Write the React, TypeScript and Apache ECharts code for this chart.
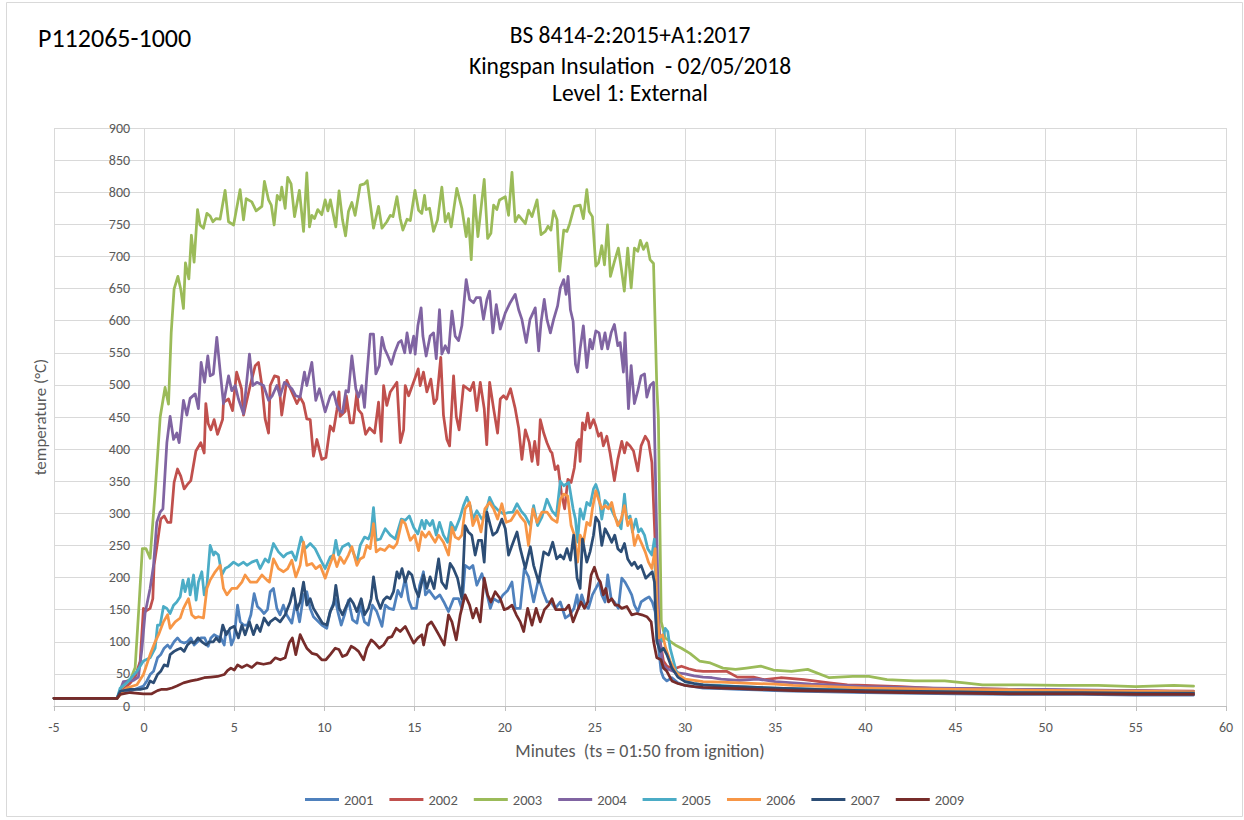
import React, { useEffect, useRef } from "react";
import * as echarts from "echarts";

// Time in minutes (ts = 01:50 from ignition), temperature in °C
const seriesNames = ["2001", "2002", "2003", "2004", "2005", "2006", "2007", "2009"];
const seriesColors = ["#4F81BD", "#C0504D", "#9BBB59", "#8064A2", "#4BACC6", "#F79646", "#2C4D75", "#772C2A"];

const titleLeft = "P112065-1000";
const titleLines = ["BS 8414-2:2015+A1:2017", "Kingspan Insulation  - 02/05/2018", "Level 1: External"];
const xName = "Minutes  (ts = 01:50 from ignition)";
const yName = "temperature (°C)";

const s2001: number[][] = [[-5,12],[-1.5,12],[-1.33,21],[-0.78,23],[-0.04,31],[0.15,39],[0.33,49],[0.52,54],[0.74,75],[0.92,80],[1.11,90],[1.3,95],[1.44,90],[1.66,100],[1.85,106],[2.03,100],[2.22,98],[2.4,100],[2.59,106],[2.77,95],[2.96,100],[3.14,106],[3.36,106],[3.55,93],[3.7,106],[3.88,111],[4.07,108],[4.25,106],[4.44,95],[4.53,116],[4.72,116],[4.84,95],[4.99,106],[5.18,157],[5.33,131],[5.51,126],[5.73,126],[5.92,142],[6.1,175],[6.28,155],[6.47,150],[6.65,144],[6.84,150],[6.99,178],[7.17,183],[7.36,152],[7.54,142],[7.72,157],[7.9,142],[8.19,129],[8.4,162],[8.62,131],[8.84,173],[9.02,178],[9.21,152],[9.39,139],[9.67,131],[9.85,126],[10.13,121],[10.32,147],[10.6,167],[10.74,147],[10.93,126],[11.11,142],[11.33,165],[11.56,134],[11.8,129],[11.98,157],[12.22,131],[12.44,126],[12.66,157],[12.9,147],[13.19,124],[13.37,157],[13.59,152],[13.83,150],[14.07,180],[14.26,170],[14.48,199],[14.67,165],[14.85,152],[15.1,152],[15.28,188],[15.49,209],[15.6,173],[15.8,180],[16.14,167],[16.4,173],[16.62,162],[16.88,147],[17.16,167],[17.44,167],[17.62,152],[17.8,219],[18.05,214],[18.23,219],[18.45,188],[18.73,206],[18.9,188],[19.2,152],[19.38,167],[19.66,162],[19.9,173],[20.16,180],[20.4,193],[20.58,152],[20.86,152],[21.08,214],[21.32,201],[21.6,162],[21.88,199],[22.12,178],[22.34,162],[22.56,162],[22.8,152],[23.08,162],[23.36,137],[23.6,142],[23.84,152],[24.01,173],[24.1,152],[24.27,173],[24.45,157],[24.64,152],[24.86,173],[25.05,183],[25.23,193],[25.38,173],[25.56,162],[25.71,204],[25.9,167],[26.08,162],[26.3,152],[26.49,199],[26.67,193],[26.86,183],[27.04,173],[27.19,157],[27.38,147],[27.56,162],[27.82,167],[28.0,170],[28.18,162],[28.34,147],[28.49,101],[28.67,54],[28.8,44],[28.99,39],[29.27,44],[29.6,36],[30,32],[30.5,30],[31,28],[32,27],[33,26],[34,25],[35,24],[36,23],[38,22],[40,21],[42,20],[45,19],[48,18],[52,18],[55,17],[58.2,17]];

const s2002: number[][] = [[-5,12],[-1.5,12],[-1.2,25],[-0.8,35],[-0.5,45],[-0.22,70],[-0.04,152],[0.11,148],[0.33,152],[0.48,167],[0.55,219],[0.74,255],[0.92,291],[1.11,296],[1.3,286],[1.48,286],[1.66,348],[1.85,369],[2.03,358],[2.22,338],[2.4,345],[2.59,351],[2.87,397],[3.14,410],[3.33,394],[3.42,471],[3.55,440],[3.7,430],[3.88,446],[4.07,423],[4.35,446],[4.4,473],[4.68,478],[4.9,460],[5.13,520],[5.4,494],[5.51,453],[5.88,499],[6.16,530],[6.34,535],[6.53,499],[6.71,447],[6.9,425],[6.99,499],[7.23,514],[7.45,512],[7.63,453],[7.91,507],[8.19,489],[8.47,471],[8.65,481],[8.84,471],[9.02,447],[9.21,446],[9.39,389],[9.58,415],[9.85,384],[10.08,387],[10.32,436],[10.5,428],[10.69,461],[10.81,489],[10.87,451],[11.15,459],[11.21,483],[11.43,441],[11.6,441],[11.8,489],[11.89,461],[12.07,455],[12.28,423],[12.5,433],[12.78,425],[13,473],[13.15,412],[13.28,499],[13.46,468],[13.65,489],[14.02,504],[14.21,410],[14.39,430],[14.48,499],[14.67,483],[15.04,512],[15.2,525],[15.31,499],[15.49,520],[15.68,489],[15.9,509],[16.08,471],[16.23,478],[16.45,543],[16.6,453],[16.79,415],[16.94,405],[17.16,514],[17.31,451],[17.47,430],[17.71,499],[18.08,491],[18.27,504],[18.45,460],[18.64,504],[18.86,463],[19.0,407],[19.16,504],[19.38,463],[19.6,425],[19.75,478],[19.93,483],[20.1,478],[20.32,494],[20.58,463],[20.77,433],[20.95,384],[21.14,430],[21.36,410],[21.51,381],[21.66,412],[21.84,376],[21.97,446],[22.16,425],[22.34,410],[22.53,397],[22.62,394],[22.8,368],[22.95,374],[23.14,332],[23.32,307],[23.5,353],[23.68,348],[23.86,371],[24.0,410],[24.12,415],[24.18,381],[24.31,441],[24.45,430],[24.6,456],[24.73,433],[24.92,446],[25.05,436],[25.2,420],[25.34,425],[25.47,405],[25.66,420],[25.84,394],[26.08,351],[26.27,384],[26.49,412],[26.64,394],[26.77,410],[26.95,405],[27.14,397],[27.38,366],[27.56,405],[27.79,420],[27.97,412],[28.16,379],[28.34,255],[28.43,173],[28.62,100],[28.8,70],[29.0,62],[29.4,58],[29.8,62],[30.2,58],[30.6,55],[31,54],[31.7,54],[32.3,54],[32.9,45],[33.8,45],[34.4,41],[35.3,44],[36.6,41],[38,36],[39,33],[40,32],[42,30],[44,27],[46,27],[48,26],[50,25],[52,24],[55,24],[58.2,23]];

const s2003: number[][] = [[-5,12],[-1.5,12],[-1.25,28],[-1,38],[-0.75,42],[-0.5,60],[-0.3,150],[-0.1,245],[0.1,245],[0.33,230],[0.6,330],[0.89,450],[1.16,496],[1.35,470],[1.5,581],[1.66,649],[1.87,669],[2.03,649],[2.18,619],[2.29,690],[2.48,665],[2.62,733],[2.77,691],[2.96,773],[3.1,749],[3.29,744],[3.48,767],[3.66,763],[3.81,754],[3.99,759],[4.21,758],[4.49,803],[4.68,754],[4.96,749],[5.32,804],[5.51,757],[5.66,790],[5.97,785],[6.21,771],[6.53,778],[6.67,817],[6.9,788],[7.05,780],[7.21,749],[7.38,795],[7.54,788],[7.63,808],[7.82,775],[7.96,823],[8.15,813],[8.34,762],[8.61,803],[8.84,739],[9.02,830],[9.17,746],[9.3,764],[9.45,759],[9.63,773],[9.85,765],[10.04,788],[10.19,771],[10.33,788],[10.63,746],[10.81,802],[11,757],[11.17,732],[11.33,770],[11.52,784],[11.7,764],[11.98,811],[12.22,813],[12.37,818],[12.54,782],[12.72,744],[13,778],[13.19,744],[13.46,754],[13.65,764],[13.8,762],[14.02,793],[14.2,759],[14.35,741],[14.58,758],[14.76,756],[15.02,803],[15.22,772],[15.4,767],[15.55,795],[15.64,773],[15.83,775],[16.05,739],[16.27,757],[16.51,808],[16.7,754],[16.88,767],[17.03,746],[17.34,806],[17.62,775],[17.86,731],[17.99,759],[18.14,695],[18.32,795],[18.51,731],[18.86,820],[19.05,728],[19.23,736],[19.38,780],[19.56,773],[19.71,788],[20.03,793],[20.21,764],[20.4,831],[20.58,754],[20.77,764],[21.14,751],[21.32,772],[21.51,762],[21.79,788],[22.01,734],[22.25,739],[22.4,747],[22.56,741],[22.71,771],[22.9,757],[23.04,677],[23.27,741],[23.45,739],[23.6,751],[23.86,778],[24.18,780],[24.36,759],[24.55,804],[24.68,770],[24.86,762],[25.05,685],[25.2,690],[25.38,717],[25.53,687],[25.7,749],[25.86,669],[26.08,692],[26.3,713],[26.46,682],[26.63,646],[26.82,713],[27.01,651],[27.19,713],[27.38,708],[27.52,725],[27.69,711],[27.88,721],[28.06,695],[28.25,689],[28.43,499],[28.52,448],[28.68,131],[28.9,106],[29.45,95],[29.8,90],[30.27,82],[30.8,70],[31.4,67],[32.1,59],[32.8,57],[33.4,59],[34.2,62],[34.9,56],[35.9,54],[36.8,57],[38,44],[39.3,46],[40.2,46],[41.2,41],[42.7,39],[44.4,39],[45.5,36],[46.5,33],[48.6,33],[50.8,32],[52.9,32],[55,30],[57.1,32],[58.2,31]];

const s2004: number[][] = [[-5,12],[-1.5,12],[-1.15,38],[-0.59,40],[-0.32,45],[-0.13,87],[0.05,144],[0.33,183],[0.52,219],[0.7,286],[0.89,302],[1.04,307],[1.26,410],[1.44,451],[1.63,415],[1.81,425],[1.94,410],[2.18,476],[2.37,453],[2.55,479],[2.83,486],[3.01,463],[3.16,535],[3.35,504],[3.53,545],[3.66,514],[3.84,517],[4.03,574],[4.22,520],[4.4,471],[4.68,514],[4.86,491],[5.05,499],[5.23,478],[5.51,455],[5.84,548],[6.03,499],[6.25,504],[6.62,499],[6.9,476],[7.1,483],[7.36,499],[7.54,483],[7.78,504],[8.0,499],[8.19,494],[8.41,483],[8.65,481],[8.89,520],[9.02,499],[9.3,535],[9.52,476],[9.72,494],[10.04,458],[10.32,483],[10.5,489],[10.69,468],[10.87,459],[11.0,457],[11.19,491],[11.33,489],[11.52,545],[11.74,494],[11.89,481],[12.07,499],[12.22,465],[12.35,514],[12.54,579],[12.72,579],[12.85,517],[13.04,530],[13.19,574],[13.34,556],[13.52,545],[13.71,532],[13.89,550],[14.11,566],[14.26,569],[14.45,550],[14.58,581],[14.76,550],[14.95,576],[15.03,548],[15.18,592],[15.36,620],[15.46,576],[15.64,545],[15.86,576],[16.05,581],[16.2,541],[16.38,617],[16.51,548],[16.7,561],[16.88,550],[17.07,615],[17.25,576],[17.44,569],[17.62,592],[17.86,664],[18.05,633],[18.27,628],[18.42,636],[18.64,636],[18.82,602],[19.01,633],[19.16,646],[19.34,581],[19.53,625],[19.75,587],[20.03,612],[20.3,628],[20.58,641],[20.77,617],[20.95,602],[21.19,566],[21.4,602],[21.69,620],[21.88,553],[22.01,597],[22.19,633],[22.34,602],[22.53,581],[22.71,602],[22.93,623],[23.08,651],[23.27,664],[23.4,641],[23.51,669],[23.64,617],[23.79,599],[23.92,532],[24.04,520],[24.18,556],[24.36,592],[24.55,527],[24.73,571],[24.86,556],[25.05,584],[25.23,581],[25.38,556],[25.56,581],[25.71,556],[25.9,581],[26.08,594],[26.27,561],[26.4,566],[26.58,520],[26.67,581],[26.86,463],[27.01,530],[27.19,471],[27.38,491],[27.56,514],[27.75,517],[27.88,481],[28.06,499],[28.25,504],[28.4,300],[28.55,120],[28.75,65],[29.0,58],[29.5,52],[30,50],[30.5,47],[31,45],[31.5,44],[32,42],[33,40],[34,42],[35,38],[36,36],[37,34],[38,33],[40,30],[42,29],[44,28],[46,27],[48,26],[50,26],[52,25],[55,24],[58.2,22]];

const s2005: number[][] = [[-5,12],[-1.5,12],[-1.33,28],[-0.96,36],[-0.4,54],[-0.04,70],[0.33,75],[0.61,90],[0.74,126],[0.89,126],[1.07,155],[1.26,152],[1.44,144],[1.63,157],[1.81,162],[2.0,170],[2.15,196],[2.27,178],[2.46,198],[2.55,173],[2.74,204],[2.88,165],[3.01,193],[3.2,209],[3.33,173],[3.48,188],[3.66,250],[3.85,235],[3.94,240],[4.12,235],[4.31,204],[4.49,214],[4.68,217],[4.96,224],[5.23,219],[5.51,224],[5.7,219],[5.97,224],[6.25,227],[6.43,214],[6.71,229],[6.9,224],[7.17,253],[7.45,240],[7.73,232],[7.91,237],[8.19,240],[8.41,227],[8.71,263],[8.93,245],[9.21,253],[9.48,245],[9.76,229],[10.04,214],[10.32,232],[10.5,235],[10.63,258],[10.78,235],[11.0,248],[11.33,253],[11.56,242],[11.8,224],[11.98,250],[12.22,263],[12.44,260],[12.59,271],[12.72,309],[12.87,258],[13.1,260],[13.37,276],[13.65,266],[13.93,260],[14.26,291],[14.48,289],[14.71,296],[14.95,278],[15.18,268],[15.4,289],[15.55,276],[15.64,289],[15.86,281],[16.0,289],[16.2,266],[16.38,286],[16.6,266],[16.83,255],[17.01,286],[17.25,274],[17.49,291],[17.71,312],[17.9,325],[18.08,312],[18.23,291],[18.45,304],[18.73,291],[18.9,296],[19.16,325],[19.38,312],[19.66,304],[19.93,299],[20.16,301],[20.45,302],[20.68,315],[20.9,304],[21.14,296],[21.42,281],[21.6,312],[21.82,281],[22.06,294],[22.34,322],[22.62,304],[22.86,296],[23.08,350],[23.27,343],[23.55,348],[23.79,307],[23.92,291],[24.04,255],[24.18,307],[24.36,291],[24.55,317],[24.73,312],[24.92,338],[25.05,345],[25.2,332],[25.38,291],[25.56,320],[25.71,315],[25.9,307],[26.08,296],[26.27,286],[26.45,276],[26.64,330],[26.77,291],[26.95,296],[27.08,271],[27.27,291],[27.42,271],[27.56,276],[27.75,266],[27.93,245],[28.16,235],[28.3,260],[28.4,152],[28.53,111],[28.75,101],[28.9,121],[29.04,116],[29.17,90],[29.5,55],[30,38],[30.5,35],[31,33],[32,32],[33,30],[34,29],[35,28],[36,27],[38,26],[40,25],[42,24],[45,23],[48,22],[52,22],[55,21],[58.2,21]];

const s2006: number[][] = [[-5,12],[-1.5,12],[-1.2,22],[-0.96,28],[-0.4,33],[-0.04,49],[0.33,80],[0.61,100],[0.8,111],[1.07,131],[1.3,142],[1.44,121],[1.72,131],[2.0,137],[2.18,152],[2.27,157],[2.46,167],[2.64,142],[2.83,137],[3.01,139],[3.29,137],[3.48,183],[3.66,196],[3.94,209],[4.22,219],[4.4,183],[4.59,173],[4.86,183],[5.14,183],[5.42,193],[5.6,204],[5.88,193],[6.25,193],[6.53,204],[6.81,196],[6.95,193],[7.17,229],[7.45,214],[7.73,209],[7.96,214],[8.19,227],[8.41,201],[8.65,219],[8.84,255],[9.02,219],[9.3,222],[9.52,214],[9.76,219],[10.04,199],[10.26,217],[10.5,235],[10.69,217],[10.87,232],[11.09,222],[11.33,235],[11.52,248],[11.8,219],[11.98,229],[12.17,232],[12.35,250],[12.54,245],[12.72,284],[12.87,240],[13.1,245],[13.34,242],[13.59,250],[13.83,246],[14.02,253],[14.3,289],[14.48,284],[14.76,258],[15.0,266],[15.22,242],[15.4,271],[15.6,263],[15.8,271],[15.96,263],[16.14,255],[16.33,266],[16.6,255],[16.88,235],[17.07,278],[17.25,263],[17.44,260],[17.62,266],[17.8,307],[18.05,317],[18.23,281],[18.45,296],[18.68,271],[18.9,307],[19.16,317],[19.38,307],[19.6,291],[19.84,315],[20.08,286],[20.34,289],[20.68,304],[20.9,294],[21.14,286],[21.32,250],[21.56,307],[21.79,286],[22.06,302],[22.34,302],[22.62,291],[22.9,286],[23.08,322],[23.27,330],[23.49,327],[23.68,281],[23.86,266],[24.04,224],[24.18,266],[24.36,255],[24.55,286],[24.73,281],[24.86,307],[25.05,335],[25.2,322],[25.38,307],[25.56,312],[25.75,307],[25.93,317],[26.1,296],[26.27,281],[26.45,291],[26.64,312],[26.82,281],[27.0,291],[27.19,250],[27.38,266],[27.56,255],[27.79,240],[27.97,224],[28.16,214],[28.34,245],[28.43,162],[28.56,106],[28.75,111],[28.93,90],[29.17,70],[29.5,52],[30,42],[30.5,40],[31,38],[32,37],[33,36],[34,35],[35,34],[36,32],[38,30],[40,28],[42,27],[45,26],[48,25],[52,24],[55,23],[58.2,22]];

const s2007: number[][] = [[-5,12],[-1.5,12],[-1.33,23],[-0.78,26],[-0.22,26],[0.15,28],[0.33,39],[0.52,36],[0.74,49],[0.92,54],[1.11,64],[1.3,62],[1.44,80],[1.66,85],[1.85,88],[2.03,90],[2.22,85],[2.4,95],[2.59,100],[2.77,98],[2.99,106],[3.2,100],[3.44,95],[3.62,100],[3.84,100],[3.99,106],[4.18,100],[4.36,126],[4.55,111],[4.77,121],[5.0,124],[5.23,106],[5.42,126],[5.6,111],[5.84,131],[6.06,111],[6.25,126],[6.43,116],[6.65,137],[6.9,126],[6.99,131],[7.27,137],[7.54,131],[7.82,142],[8.1,162],[8.28,183],[8.47,150],[8.65,162],[8.84,193],[9.02,157],[9.21,167],[9.39,152],[9.67,139],[9.89,129],[10.13,126],[10.32,147],[10.5,157],[10.63,188],[10.82,152],[11.0,142],[11.24,157],[11.43,167],[11.6,160],[11.8,147],[12.04,167],[12.22,142],[12.44,152],[12.59,167],[12.72,201],[12.9,167],[13.1,152],[13.28,165],[13.46,170],[13.65,167],[13.83,178],[14.02,209],[14.15,199],[14.3,214],[14.48,193],[14.67,209],[14.85,204],[15.03,183],[15.22,170],[15.4,193],[15.5,204],[15.68,183],[15.86,201],[16.08,183],[16.33,229],[16.5,193],[16.75,183],[16.97,222],[17.15,214],[17.38,199],[17.62,167],[17.8,281],[17.98,271],[18.17,266],[18.36,235],[18.54,258],[18.72,258],[18.86,224],[19.01,302],[19.2,281],[19.34,266],[19.56,271],[19.84,291],[20.03,276],[20.21,235],[20.4,250],[20.68,271],[20.86,245],[21.14,214],[21.42,248],[21.6,219],[21.88,193],[22.16,240],[22.43,235],[22.66,255],[22.88,229],[23.08,235],[23.27,229],[23.45,245],[23.64,227],[23.82,266],[24.01,199],[24.18,183],[24.31,260],[24.55,224],[24.73,240],[24.92,266],[25.05,294],[25.23,286],[25.38,250],[25.56,276],[25.75,266],[25.93,255],[26.1,266],[26.27,245],[26.45,240],[26.64,253],[26.82,229],[27.04,219],[27.19,224],[27.38,214],[27.56,219],[27.82,199],[28.0,204],[28.18,209],[28.3,193],[28.43,101],[28.62,85],[28.8,90],[28.99,80],[29.27,59],[29.6,45],[30,38],[30.5,35],[31,33],[32,31],[33,30],[34,29],[35,28],[36,27],[38,25],[40,24],[42,23],[45,22],[48,21],[52,21],[55,20],[58.2,20]];

const s2009: number[][] = [[-5,12],[-1.5,12],[-1.33,18],[-0.78,21],[-0.04,19],[0.42,19],[0.74,24],[0.98,26],[1.25,26],[1.54,28],[1.81,31],[2.18,36],[2.59,39],[2.96,41],[3.33,44],[3.7,45],[4.07,46],[4.44,49],[4.62,55],[4.81,59],[5.0,56],[5.18,64],[5.42,60],[5.7,64],[5.97,60],[6.25,67],[6.62,65],[7.0,67],[7.27,75],[7.55,72],[7.82,75],[8.04,98],[8.22,106],[8.41,80],[8.65,111],[8.84,100],[9.02,90],[9.3,82],[9.58,80],[9.85,72],[10.08,72],[10.32,80],[10.6,90],[10.8,88],[11.0,77],[11.24,80],[11.48,93],[11.68,90],[11.89,85],[12.17,72],[12.35,90],[12.59,103],[12.8,98],[13.04,90],[13.28,95],[13.52,106],[13.74,108],[13.98,121],[14.2,116],[14.48,124],[14.71,111],[14.95,98],[15.18,106],[15.4,111],[15.5,95],[15.72,126],[15.93,131],[16.14,121],[16.4,108],[16.64,95],[16.88,142],[17.07,131],[17.31,103],[17.53,142],[17.8,173],[18.05,157],[18.23,137],[18.42,152],[18.64,131],[18.86,199],[19.05,173],[19.23,162],[19.47,178],[19.75,167],[19.97,150],[20.16,152],[20.4,157],[20.64,142],[20.86,131],[21.05,116],[21.27,152],[21.51,126],[21.74,152],[21.97,131],[22.2,150],[22.43,157],[22.62,167],[22.83,150],[23.08,150],[23.36,150],[23.55,157],[23.79,131],[24.01,147],[24.23,162],[24.42,152],[24.6,162],[24.79,204],[24.97,216],[25.16,199],[25.3,193],[25.47,173],[25.6,183],[25.75,162],[25.93,167],[26.12,157],[26.3,157],[26.49,152],[26.77,155],[27.04,142],[27.32,144],[27.6,142],[27.88,139],[28.12,131],[28.25,101],[28.43,75],[28.67,72],[28.8,59],[28.99,54],[29.27,39],[29.6,35],[30,32],[30.5,30],[31,29],[32,28],[33,27],[34,26],[35,25],[36,24],[38,23],[40,22],[42,21],[45,20],[48,19],[52,19],[55,18],[58.2,18]];

const allSeries = [s2001, s2002, s2003, s2004, s2005, s2006, s2007, s2009];

const FONT = "Carlito, Calibri, 'Liberation Sans Narrow', 'Open Sans', sans-serif";

const GRID_LEFT = 54;
const GRID_RIGHT = 18;
const X_MIN = -5;
const X_MAX = 60;

export default function App() {
  const ref = useRef<HTMLDivElement>(null);
  useEffect(() => {
    document.body.style.margin = "0";
    if (!ref.current) return;
    const chart = echarts.init(ref.current, undefined, { renderer: "svg" });
    const plotW = 1244 - GRID_LEFT - GRID_RIGHT;
    const zeroOffset = (plotW * (0 - X_MIN)) / (X_MAX - X_MIN);
    chart.setOption({
      animation: false,
      backgroundColor: "#ffffff",
      textStyle: { fontFamily: FONT },
      graphic: [
        { type: "rect", silent: true, shape: { x: 6.5, y: 2.5, width: 1236, height: 814 }, style: { fill: "none", stroke: "#D9D9D9", lineWidth: 1 } },
        { type: "text", x: 38, y: 38, style: { text: titleLeft, fontSize: 26, fontFamily: FONT, fill: "#000", verticalAlign: "middle" } },
        ...titleLines.map((t, i) => ({
          type: "text",
          x: 630,
          y: [35, 66, 93][i],
          style: { text: t, fontSize: 23.5, fontFamily: FONT, fill: "#000", align: "center", verticalAlign: "middle" },
        })),
        {
          type: "text",
          x: 40,
          y: 417,
          rotation: Math.PI / 2,
          style: { text: yName, fontSize: 17, fontFamily: FONT, fill: "#595959", align: "center", verticalAlign: "middle" },
        },
      ],
      legend: {
        left: 300,
        top: 787,
        icon: "rect",
        itemWidth: 34,
        itemHeight: 3,
        itemGap: 16,
        textStyle: { fontSize: 14.5, color: "#595959", fontFamily: FONT },
        data: seriesNames,
      },
      grid: { left: GRID_LEFT, right: GRID_RIGHT, top: 128, bottom: 114, containLabel: false, outerBoundsMode: "none" },
      xAxis: {
        type: "value",
        min: X_MIN,
        max: X_MAX,
        interval: 5,
        name: xName,
        nameLocation: "middle",
        nameGap: 36,
        nameTextStyle: { fontSize: 18, color: "#595959", fontFamily: FONT },
        axisLine: { show: true, onZero: true, lineStyle: { color: "#BFBFBF", width: 1 } },
        axisTick: { show: true, length: 5, lineStyle: { color: "#BFBFBF" } },
        axisLabel: { fontSize: 14, color: "#595959", margin: 14, fontFamily: FONT },
        splitLine: { show: true, lineStyle: { color: "#D9D9D9", width: 1 } },
      },
      yAxis: {
        type: "value",
        min: 0,
        max: 900,
        interval: 50,
        position: "left",
        offset: -zeroOffset,
        axisLine: { show: false, onZero: false },
        axisTick: { show: false },
        axisLabel: { fontSize: 14, color: "#595959", margin: 14, fontFamily: FONT },
        splitLine: { show: true, lineStyle: { color: "#D9D9D9", width: 1 } },
      },
      series: allSeries.map((d, i) => ({
        name: seriesNames[i],
        type: "line",
        data: d,
        showSymbol: false,
        symbol: "none",
        lineStyle: { color: seriesColors[i], width: 2.75, join: "round", cap: "round" },
        itemStyle: { color: seriesColors[i] },
        emphasis: { disabled: true },
      })),
    });
    return () => chart.dispose();
  }, []);
  return <div ref={ref} style={{ position: "absolute", left: 0, top: 0, width: 1244, height: 820 }} />;
}
